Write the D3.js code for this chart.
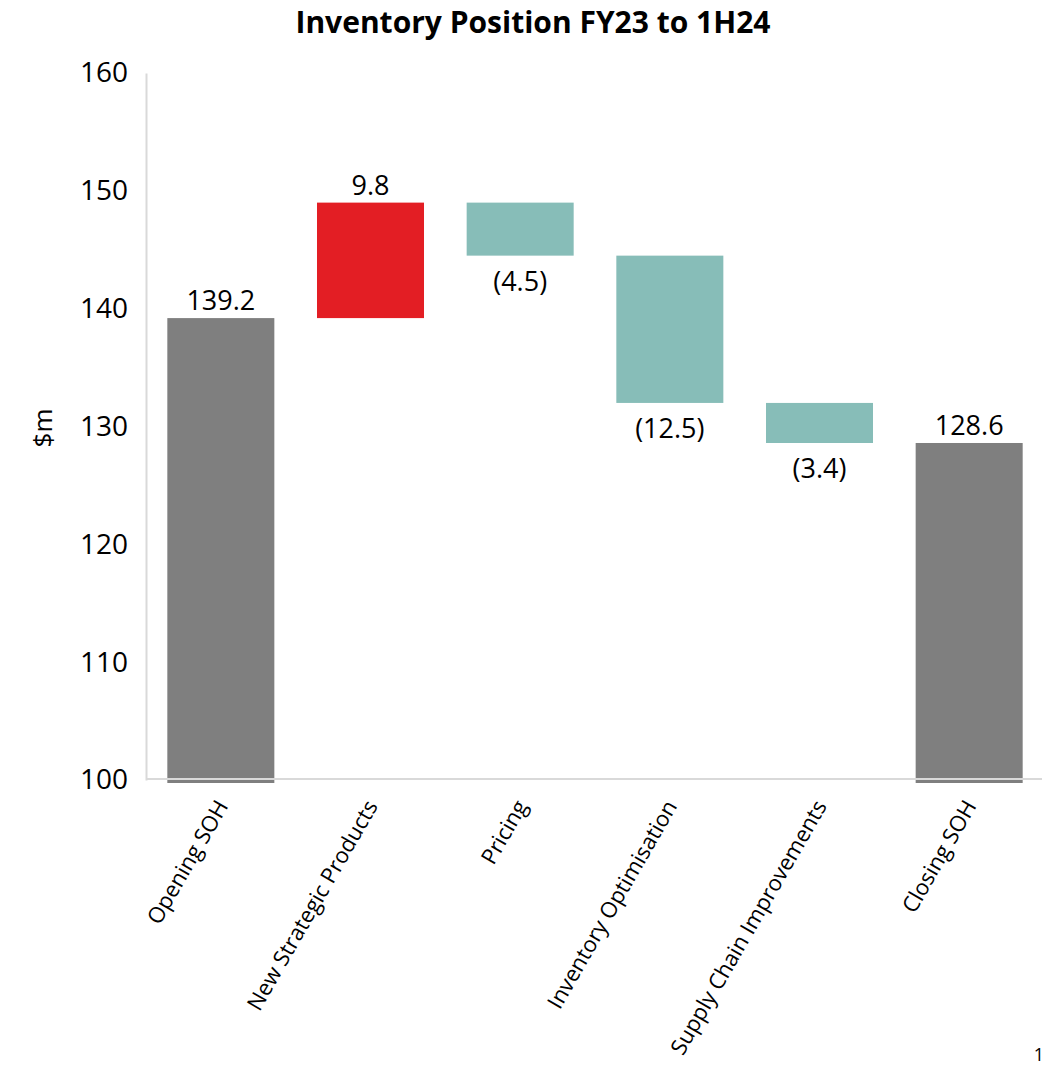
<!DOCTYPE html>
<meta charset="utf-8">
<script src="https://d3js.org/d3.v7.min.js"></script>
<style>
  body { margin: 0; background: #fff; }
  text { font-family: "Open Sans", "Noto Sans", sans-serif; }
</style>
<div id="chart"></div>
<script>
// waterfall data
const categories = ["Opening SOH", "New Strategic Products", "Pricing", "Inventory Optimisation", "Supply Chain Improvements", "Closing SOH"];
const changes = [139.2, 9.8, -4.5, -12.5, -3.4, 128.6];
const kinds = ["total", "up", "down", "down", "down", "total"];
const labels = ["139.2", "9.8", "(4.5)", "(12.5)", "(3.4)", "128.6"];
const yTicks = [100, 110, 120, 130, 140, 150, 160];

const colors = { total: "#7f7f7f", up: "#e31e24", down: "#87bdb8" };

const W = 1048, H = 1065;
const svg = d3.select("#chart").append("svg")
  .attr("width", W).attr("height", H);

// build start/end for each step
let running = 0;
const data = categories.map((c, i) => {
  let start, end;
  if (kinds[i] === "total") { start = 100; end = changes[i]; running = changes[i]; }
  else { start = running; end = running + changes[i]; running = end; }
  return { cat: c, start, end, kind: kinds[i], label: labels[i] };
});

const x = d3.scaleBand()
  .domain(categories)
  .range([146, 1044])
  .paddingInner(0.285)
  .paddingOuter(0.1425);

const y = d3.scaleLinear()
  .domain([100, 160])
  .range([780, 73]);

// title
svg.append("text")
  .attr("x", 533).attr("y", 33)
  .attr("text-anchor", "middle")
  .style("font-size", "30px")
  .style("font-weight", "bold")
  .text("Inventory Position FY23 to 1H24");

// y axis
const yAxis = svg.append("g")
  .attr("transform", "translate(146,0)")
  .call(d3.axisLeft(y).tickValues(yTicks).tickSize(0).tickPadding(18));
yAxis.select(".domain").attr("stroke", "#d9d9d9").attr("stroke-width", 2);
yAxis.selectAll("text").style("font-size", "28px").attr("fill", "#000");

svg.append("text")
  .attr("transform", "translate(52,428) rotate(-90)")
  .attr("text-anchor", "middle")
  .style("font-size", "26px")
  .text("$m");

// bars
svg.selectAll("rect.bar")
  .data(data)
  .join("rect")
  .attr("class", "bar")
  .attr("x", d => x(d.cat))
  .attr("width", x.bandwidth())
  .attr("y", d => y(Math.max(d.start, d.end)))
  .attr("height", d => Math.abs(y(d.start) - y(d.end)) + (d.kind === "total" ? 3 : 0))
  .attr("fill", d => colors[d.kind]);

// x axis line
svg.append("line")
  .attr("x1", 146).attr("x2", 1042)
  .attr("y1", y(100) - 1).attr("y2", y(100) - 1)
  .attr("stroke", "#d9d9d9").attr("stroke-width", 2);

// value labels
svg.selectAll("text.val")
  .data(data)
  .join("text")
  .attr("class", "val")
  .attr("x", d => x(d.cat) + x.bandwidth() / 2)
  .attr("y", d => d.kind === "down" ? y(d.end) + 35 : y(d.end) - 8)
  .attr("text-anchor", "middle")
  .style("font-size", "27px")
  .text(d => d.label);

// category labels
svg.selectAll("text.cat")
  .data(data)
  .join("text")
  .attr("class", "cat")
  .attr("text-anchor", "end")
  .attr("transform", d => `translate(${x(d.cat) + x.bandwidth() / 2 + 8},${y(100) + 26}) rotate(-60)`)
  .style("font-size", "22px")
  .text(d => d.cat);

// page number
svg.append("text")
  .attr("x", 1044).attr("y", 1061)
  .attr("text-anchor", "end")
  .style("font-size", "18px")
  .text("1");
</script>
